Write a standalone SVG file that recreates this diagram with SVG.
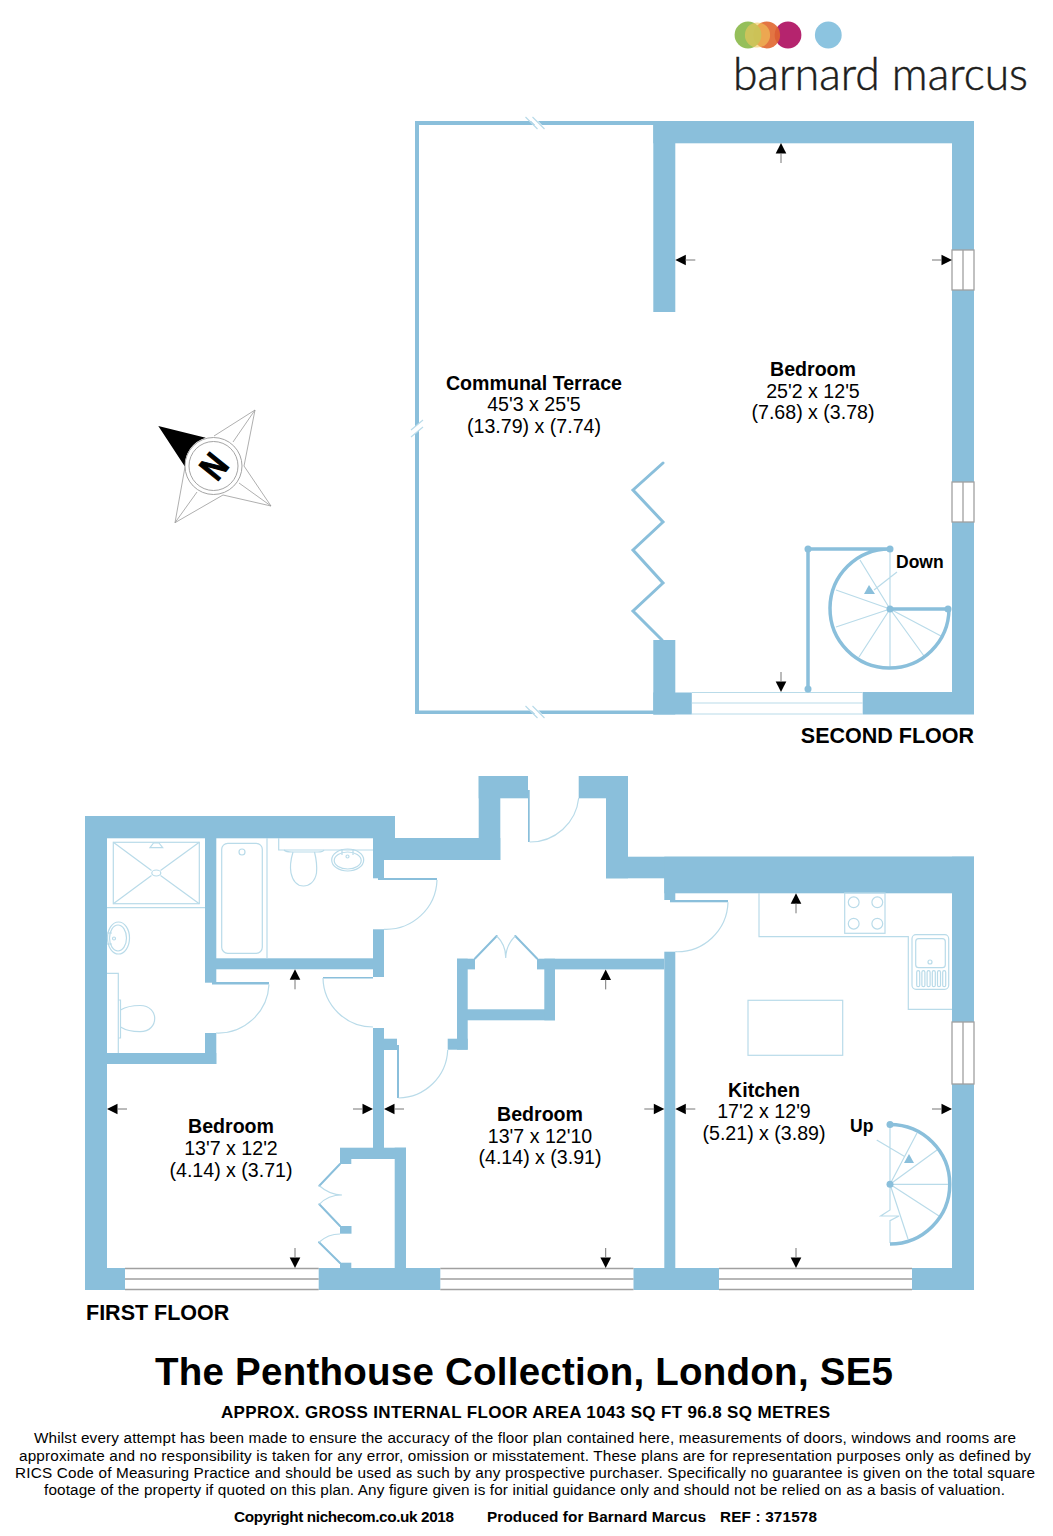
<svg xmlns="http://www.w3.org/2000/svg" xmlns:xlink="http://www.w3.org/1999/xlink" width="1053" height="1536" viewBox="0 0 1053 1536">
<style>
.w{fill:#8abfdb}
.l{fill:none;stroke:#b9dbe9;stroke-width:1.2}
.d{fill:none;stroke:#8abfdb;stroke-width:3;stroke-linecap:round}
.s{fill:none;stroke:#8abfdb;stroke-width:3.5}
.dot{fill:#8abfdb}
.g{fill:#fff;stroke:#a0a0a0;stroke-width:1.3}
.gs{fill:none;stroke:#a0a0a0;stroke-width:1.3}
.c{fill:none;stroke:#9a9a9a;stroke-width:.8}
text{font-family:"Liberation Sans",Arial,sans-serif;fill:#000}
.t{font-size:19.6px;text-anchor:middle}
.b{font-weight:bold}
.f{font-size:15.3px}
</style>
<defs>
<g id="arrow"><polygon points="0,0 -5.3,10.5 5.3,10.5" fill="#000"/><line x1="0" y1="10" x2="0" y2="20" stroke="#777" stroke-width="1"/></g>
</defs>
<rect width="1053" height="1536" fill="#fff"/>

<g id="logo">
<circle cx="828.3" cy="35" r="13.4" fill="#8cc4e0"/>
<circle cx="788" cy="35" r="13.4" fill="#b5246e"/>
<circle cx="766.7" cy="35" r="13.4" fill="#e0662f" opacity=".9"/>
<circle cx="748" cy="35" r="13.4" fill="#8fbc52" opacity=".95"/>
<circle cx="757.5" cy="35" r="12.6" fill="#f2c85c" opacity=".6"/>
<text x="733" y="90" font-size="46" font-weight="300" stroke="#1d1d1b" stroke-width=".5" textLength="295" lengthAdjust="spacingAndGlyphs" style="font-family:Lato,'Open Sans',sans-serif;fill:#1d1d1b">barnard marcus</text>
</g>

<g id="compass">
<path class="c" d="M255 410L214 436M255 410L244 466M255 410L233 442M271 506L244 466M271 506L223 495M271 506L239 483M175 522.7L223 495M175 522.7L185 467M175 522.7L197 492"/>
<path d="M158.3 426L205.7 437.7A28.5 28.5 0 0 0 185 466.7Z" fill="#000"/>
<circle cx="213.5" cy="466" r="28.5" fill="#fff" stroke="#9a9a9a" stroke-width=".9"/>
<circle cx="213.5" cy="466" r="24.5" fill="none" stroke="#9a9a9a" stroke-width=".9"/>
<text transform="translate(213.5 466) rotate(-51) scale(.8 1)" y="13" class="b" font-size="36" text-anchor="middle" stroke="#000" stroke-width="1.2">N</text>
</g>

<g id="second-floor">
<rect class="w" x="415" y="121" width="559" height="4"/>
<rect class="w" x="415" y="121" width="4" height="593"/>
<rect class="w" x="415" y="710.5" width="239" height="3.5"/>
<rect class="w" x="653.3" y="121" width="320.7" height="22.3"/>
<rect class="w" x="653.3" y="121" width="22" height="191"/>
<rect class="w" x="952" y="121" width="22" height="593"/>
<rect class="w" x="653.3" y="640" width="22" height="74.5"/>
<rect class="w" x="653.3" y="692.5" width="38.5" height="22"/>
<rect class="w" x="862.7" y="692" width="111.3" height="22.5"/>
<path class="l" d="M691.8 692.5H862.7M691.8 703H862.7M691.8 714H862.7"/>
<g id="windows-second">
<rect class="g" x="952" y="250" width="22" height="40"/><path class="gs" d="M963 250V290"/>
<rect class="g" x="952" y="482" width="22" height="40"/><path class="gs" d="M963 482V522"/>
</g>
<g id="breaks" fill="#fff">
<polygon points="527,117 534,117 546,129 539,129"/>
<polygon points="527,706 534,706 546,718 539,718"/>
<polygon points="411,437 411,430 423,420 423,427"/>
</g>
<path class="l" d="M525.5 117L537.5 129M532.5 117L544.5 129M525.5 706L537.5 718M532.5 706L544.5 718M411 437L423 427M411 430L423 420"/>
<polyline class="d" points="663,463 633,490 663,522 633,550 663,583 633,611 662,640"/>
<g id="stairs-down">
<path class="l" d="M890 609V549M890 609L860 560M890 609L836 590M890 609L836 627M890 609L859 657M890 609V668M890 609L924 656M890 609L941 636M897 572L874 590"/>
<path class="s" d="M890 549A59.5 59.5 0 1 0 949 609M890 609H948M808 549H890M808 549V689"/>
<circle class="dot" cx="808" cy="549" r="3.5"/><circle class="dot" cx="890" cy="549" r="3.5"/><circle class="dot" cx="808" cy="689" r="3.5"/><circle class="dot" cx="890" cy="609" r="3.5"/><circle class="dot" cx="948" cy="609" r="3.5"/>
<polygon class="dot" points="869,585 864,594 875,594"/>
</g>
<g id="arrows-second">
<use xlink:href="#arrow" href="#arrow" transform="translate(781 143)"/>
<use xlink:href="#arrow" href="#arrow" transform="translate(675.3 260) rotate(-90)"/>
<use xlink:href="#arrow" href="#arrow" transform="translate(952 260) rotate(90)"/>
<use xlink:href="#arrow" href="#arrow" transform="translate(781 692) rotate(180)"/>
</g>
<g id="label-terrace">
<text class="t b" x="534" y="390">Communal Terrace</text>
<text class="t" x="534" y="411">45'3 x 25'5</text>
<text class="t" x="534" y="433">(13.79) x (7.74)</text>
</g>
<g id="label-bedroom-2f">
<text class="t b" x="813" y="376">Bedroom</text>
<text class="t" x="813" y="398">25'2 x 12'5</text>
<text class="t" x="813" y="419">(7.68) x (3.78)</text>
</g>
<text class="b" x="896" y="568" font-size="17.5">Down</text>
<text class="b" x="974" y="743" font-size="21.5" text-anchor="end">SECOND FLOOR</text>
</g>

<g id="first-floor">
<g id="walls-first">
<rect class="w" x="85" y="816" width="22" height="474"/>
<rect class="w" x="85" y="816" width="310" height="22.3"/>
<rect class="w" x="205" y="838" width="11.3" height="144.7"/>
<rect class="w" x="205" y="958.3" width="179" height="11"/>
<rect class="w" x="373" y="838" width="127.3" height="22"/>
<rect class="w" x="373" y="838" width="11" height="40.3"/>
<rect class="w" x="378" y="878" width="59" height="2"/>
<rect class="w" x="478.7" y="776" width="21.6" height="84"/>
<rect class="w" x="478.7" y="776" width="49.3" height="22.3"/>
<rect class="w" x="528" y="790" width="1.7" height="52"/>
<rect class="w" x="578.7" y="776" width="49.3" height="22.3"/>
<rect class="w" x="606" y="776" width="22" height="102.3"/>
<rect class="w" x="606" y="856.7" width="368" height="21.6"/>
<rect class="w" x="664.3" y="856.7" width="309.7" height="36.6"/>
<rect class="w" x="664.3" y="878" width="11" height="22"/>
<rect class="w" x="670" y="900" width="58" height="2.3"/>
<rect class="w" x="952" y="856.7" width="22" height="433.3"/>
<rect class="w" x="373" y="929.3" width="11" height="47.7"/>
<rect class="w" x="323" y="977" width="50" height="1.5"/>
<rect class="w" x="212" y="982" width="57" height="2.5"/>
<rect class="w" x="373" y="1028" width="11" height="120"/>
<rect class="w" x="384" y="1038.7" width="13" height="11.3"/>
<rect class="w" x="397" y="1045" width="2" height="53"/>
<rect class="w" x="457" y="958.7" width="10.7" height="91"/>
<rect class="w" x="447.7" y="1038.7" width="20" height="11"/>
<rect class="w" x="457" y="958.7" width="18" height="10.7"/>
<rect class="w" x="467" y="1009.3" width="88" height="11"/>
<rect class="w" x="544.3" y="958.7" width="10.7" height="61.6"/>
<rect class="w" x="537" y="958.7" width="127.3" height="10.7"/>
<rect class="w" x="664.3" y="951.7" width="11" height="338"/>
<rect class="w" x="205" y="1033" width="11.3" height="31"/>
<rect class="w" x="85" y="1053" width="131.3" height="11"/>
<rect class="w" x="340" y="1147.7" width="66" height="11.3"/>
<rect class="w" x="394.7" y="1147.7" width="11.3" height="125"/>
<rect class="w" x="340" y="1150" width="11.3" height="14"/>
<rect class="w" x="340" y="1226" width="11.5" height="7.7"/>
<rect class="w" x="340" y="1262.7" width="11.3" height="8"/>
<rect class="w" x="85" y="1268" width="40" height="22"/>
<rect class="w" x="318.7" y="1268" width="121.6" height="22"/>
<rect class="w" x="633.5" y="1268" width="85.5" height="22"/>
<rect class="w" x="912" y="1268" width="62" height="22"/>
</g>
<g id="windows-first">
<path class="gs" d="M125 1268.5H318.7M125 1279H318.7M125 1289.5H318.7M440.3 1268.5H633.5M440.3 1279H633.5M440.3 1289.5H633.5M719 1268.5H912M719 1279H912M719 1289.5H912"/>
<rect class="g" x="952" y="1022" width="22" height="62"/><path class="gs" d="M963 1022V1084"/>
</g>
<g id="doors-first">
<polyline class="d" style="stroke-width:2" points="475,958.5 496.7,936"/>
<polyline class="d" style="stroke-width:2" points="515.3,936 537,958.5"/>
<polyline class="d" style="stroke-width:2" points="340,1164 319.3,1185.7"/>
<polyline class="d" style="stroke-width:2" points="319.3,1204.3 340,1226"/>
<polyline class="d" style="stroke-width:2" points="319,1242.3 340,1263"/>
<path class="l" d="M496.7 936Q506 945 505.7 958M515.3 936Q506 945 505.7 958M319.3 1185.7Q330 1195 342 1195M319.3 1204.3Q328 1195 342 1195M319 1242.3Q328 1234 340 1234"/>
<path class="l" d="M269 984.5A51 51 0 0 1 216 1033M323 978A50 50 0 0 0 373 1027M437 880A51 51 0 0 1 384 929.3M529.7 842A49 49 0 0 0 578.7 798M398.5 1098A50 50 0 0 0 447.7 1050M728 902.3A51 51 0 0 1 675.3 951.7"/>
</g>
<g id="fixtures">
<path class="l" d="M107 907.7H205M267 838V958.3"/>
<rect class="l" x="113.3" y="842.3" width="86" height="61.4"/>
<path class="l" d="M113.3 842.3L151.5 870.5M199.3 842.3L160.5 870.5M113.3 903.7L151.5 875.5M199.3 903.7L160.5 875.5M150 847.7L153.5 843H159L162.7 847.7Z"/>
<ellipse class="l" cx="156.3" cy="873" rx="4.5" ry="3"/>
<ellipse class="l" cx="118.5" cy="938" rx="11" ry="16"/>
<ellipse class="l" cx="118" cy="938" rx="8.5" ry="13"/>
<circle class="l" cx="114" cy="938.5" r="1.5"/>
<path class="l" d="M107 933H112M107 944H112"/>
<path class="l" d="M107 973.3H118.3V1053M118.3 1000V1038H120.5V1000Z"/>
<path class="l" d="M120.5 1010Q128 1005.5 140 1005.5C150 1005.5 154.7 1012 154.7 1018.5C154.7 1025 150 1031.7 140 1031.7Q128 1031.7 120.5 1027"/>
<rect class="l" x="221.7" y="843.3" width="40.6" height="110" rx="6"/>
<circle class="l" cx="242" cy="852" r="3"/>
<path class="l" d="M278.7 838V850H373"/>
<path class="l" d="M284 850Q286 852 292 852H318Q323 852 324 850"/>
<path class="l" d="M293 852C290 862 290 868 291 873C293 882 298 886 303.5 886C309 886 315 882 316.5 873C317 868 317 862 314.5 852"/>
<ellipse class="l" cx="347.7" cy="860" rx="16" ry="11"/>
<ellipse class="l" cx="347.7" cy="860.5" rx="13.5" ry="8.5"/>
<circle class="l" cx="347.5" cy="856.5" r="1.5"/>
<path class="l" d="M342 849V855M353 849V855"/>
<path class="l" d="M759 893V936.7H908.3V1009.3H952"/>
<rect class="l" x="844.7" y="893" width="40.3" height="40.3"/>
<circle class="l" cx="853.7" cy="902.3" r="5.4"/><circle class="l" cx="877.3" cy="902.3" r="5.4"/><circle class="l" cx="853.7" cy="923.7" r="5.4"/><circle class="l" cx="877.3" cy="923.7" r="5.4"/>
<rect class="l" x="912" y="934.7" width="36.7" height="54.6" rx="4"/>
<rect class="l" x="915.7" y="938.7" width="29.6" height="29" rx="3"/>
<circle class="l" cx="930" cy="962" r="2"/>
<rect class="l" x="916.7" y="970.7" width="3" height="16" rx="1.5"/><rect class="l" x="921.9" y="970.7" width="3" height="16" rx="1.5"/><rect class="l" x="927.1" y="970.7" width="3" height="16" rx="1.5"/><rect class="l" x="932.3" y="970.7" width="3" height="16" rx="1.5"/><rect class="l" x="937.5" y="970.7" width="3" height="16" rx="1.5"/><rect class="l" x="942.7" y="970.7" width="3" height="16" rx="1.5"/>
<rect class="l" x="748" y="1000.3" width="94.7" height="55"/>
</g>
<g id="stairs-up">
<path class="l" d="M890 1184.3V1124M890 1184.3L917 1133M890 1184.3L937 1150M890 1184.3H948M890 1184.3L939 1216M890 1184.3L908 1239M890 1184.3V1210L880.7 1216H899L890 1220.7V1243M876.7 1140L905 1156.7"/>
<path class="s" d="M890 1124.5A59.7 59.7 0 0 1 890 1244"/>
<circle class="dot" cx="890" cy="1124.5" r="3.5"/><circle class="dot" cx="890" cy="1184.3" r="3.5"/>
<polygon class="dot" points="909,1154 904,1163 914,1163"/>
</g>
<g id="arrows-first">
<use xlink:href="#arrow" href="#arrow" transform="translate(295 969.3)"/>
<use xlink:href="#arrow" href="#arrow" transform="translate(107 1109) rotate(-90)"/>
<use xlink:href="#arrow" href="#arrow" transform="translate(373 1109) rotate(90)"/>
<use xlink:href="#arrow" href="#arrow" transform="translate(384 1109) rotate(-90)"/>
<use xlink:href="#arrow" href="#arrow" transform="translate(295 1268) rotate(180)"/>
<use xlink:href="#arrow" href="#arrow" transform="translate(605.7 969.4)"/>
<use xlink:href="#arrow" href="#arrow" transform="translate(664.3 1109) rotate(90)"/>
<use xlink:href="#arrow" href="#arrow" transform="translate(605.7 1268) rotate(180)"/>
<use xlink:href="#arrow" href="#arrow" transform="translate(796 893.3)"/>
<use xlink:href="#arrow" href="#arrow" transform="translate(675.3 1109) rotate(-90)"/>
<use xlink:href="#arrow" href="#arrow" transform="translate(952 1109) rotate(90)"/>
<use xlink:href="#arrow" href="#arrow" transform="translate(796 1268) rotate(180)"/>
</g>
<g id="label-bedroom-a">
<text class="t b" x="231" y="1133">Bedroom</text>
<text class="t" x="231" y="1155">13'7 x 12'2</text>
<text class="t" x="231" y="1177">(4.14) x (3.71)</text>
</g>
<g id="label-bedroom-b">
<text class="t b" x="540" y="1121">Bedroom</text>
<text class="t" x="540" y="1143">13'7 x 12'10</text>
<text class="t" x="540" y="1164">(4.14) x (3.91)</text>
</g>
<g id="label-kitchen">
<text class="t b" x="764" y="1097">Kitchen</text>
<text class="t" x="764" y="1118">17'2 x 12'9</text>
<text class="t" x="764" y="1140">(5.21) x (3.89)</text>
</g>
<text class="b" x="850" y="1132" font-size="17.5">Up</text>
<text class="b" x="86" y="1320" font-size="21.5">FIRST FLOOR</text>
</g>

<g id="footer">
<text class="b" x="155" y="1385" font-size="38.5" textLength="738">The Penthouse Collection, London, SE5</text>
<text class="b" x="221" y="1418" font-size="17" textLength="609">APPROX. GROSS INTERNAL FLOOR AREA 1043 SQ FT 96.8 SQ METRES</text>
<text class="f" x="34" y="1443" textLength="982">Whilst every attempt has been made to ensure the accuracy of the floor plan contained here, measurements of doors, windows and rooms are</text>
<text class="f" x="19" y="1461" textLength="1012">approximate and no responsibility is taken for any error, omission or misstatement. These plans are for representation purposes only as defined by</text>
<text class="f" x="15" y="1478" textLength="1020">RICS Code of Measuring Practice and should be used as such by any prospective purchaser.  Specifically no guarantee is given on the total square</text>
<text class="f" x="44" y="1495" textLength="961">footage of the property if quoted on this plan. Any figure given is for initial guidance only and should not be relied on as a basis of valuation.</text>
<text class="f b" x="234" y="1522" textLength="220">Copyright nichecom.co.uk 2018</text>
<text class="f b" x="487" y="1522" textLength="219">Produced for Barnard Marcus</text>
<text class="f b" x="720" y="1522" textLength="97">REF : 371578</text>
</g>
</svg>
